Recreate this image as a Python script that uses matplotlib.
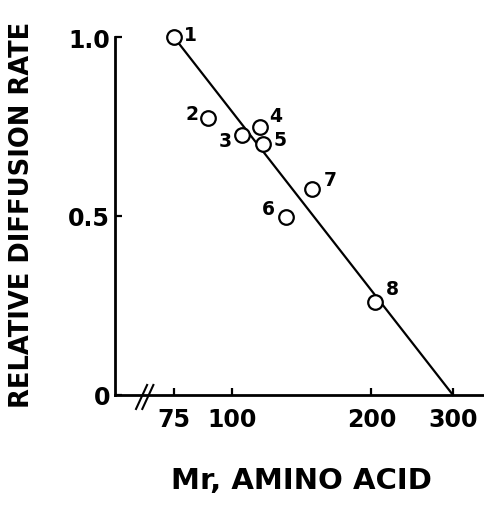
import numpy as np
import matplotlib
matplotlib.use('Agg')
import matplotlib.pyplot as plt

# amino acid molecular weights and relative diffusion rates
labels = ['1', '2', '3', '4', '5', '6', '7', '8']
mr = [75, 89, 105, 115, 117, 131, 149, 204]
rate = [1.0, 0.775, 0.727, 0.749, 0.701, 0.497, 0.575, 0.26]

# fitted line end points
fit_mr = [75, 300]
fit_rate = [1.0, 0.0]

xticks = [75, 100, 200, 300]
yticks = [0, 0.5, 1.0]
yticklabels = ['0', '0.5', '1.0']

# label offsets (points) for the numbers next to each circle
offsets = [(12, 2), (-11.5, 3), (-12, -4), (11.5, 8), (12, 3.5), (-13, 6), (13, 7), (12, 9.5)]

plt.rcParams['font.family'] = 'DejaVu Sans'
plt.rcParams['font.weight'] = 'bold'

fig = plt.figure(figsize=(4.84, 5.06), dpi=100)
ax = fig.add_axes([115 / 484, 110 / 506, 369 / 484, 358 / 506])

ax.set_xscale('log')
ax.set_xlim(56, 350)
ax.set_ylim(0, 1.0)

# fitted line
ax.plot(fit_mr, fit_rate, color='black', lw=1.6, zorder=2, clip_on=False)

# data points
ax.plot(mr, rate, 'o', ms=10.5, mfc='white', mec='black', mew=1.6,
        zorder=3, clip_on=False)

for x, y, lab, off in zip(mr, rate, labels, offsets):
    ax.annotate(lab, (x, y), xytext=off, textcoords='offset points',
                ha='center', va='center', fontsize=13.5, fontweight='bold')

# axes styling
ax.spines['top'].set_visible(False)
ax.spines['right'].set_visible(False)
ax.spines['left'].set_linewidth(2)
ax.spines['bottom'].set_linewidth(2)

ax.set_xticks(xticks)
ax.set_xticklabels([str(t) for t in xticks])
ax.xaxis.set_minor_locator(matplotlib.ticker.NullLocator())
ax.set_yticks(yticks)
ax.set_yticklabels(yticklabels)
ax.tick_params(axis='both', direction='in', length=5, width=1.6, labelsize=17)
ax.tick_params(axis='x', pad=9)
ax.tick_params(axis='y', pad=3.5)

# axis break marks
for x0 in [0.057, 0.074]:
    ax.plot([x0, x0 + 0.03], [-0.039, 0.028], color='black', lw=1.5,
            transform=ax.transAxes, clip_on=False)

fig.text(22 / 484, 1 - 215 / 506, 'RELATIVE DIFFUSION RATE', rotation=90,
         ha='center', va='center', fontsize=18.5, fontweight='bold')
fig.text(301 / 484, 1 - 481 / 506, 'Mr, AMINO ACID',
         ha='center', va='center', fontsize=21, fontweight='bold')

fig.savefig('out.png', dpi=100)
